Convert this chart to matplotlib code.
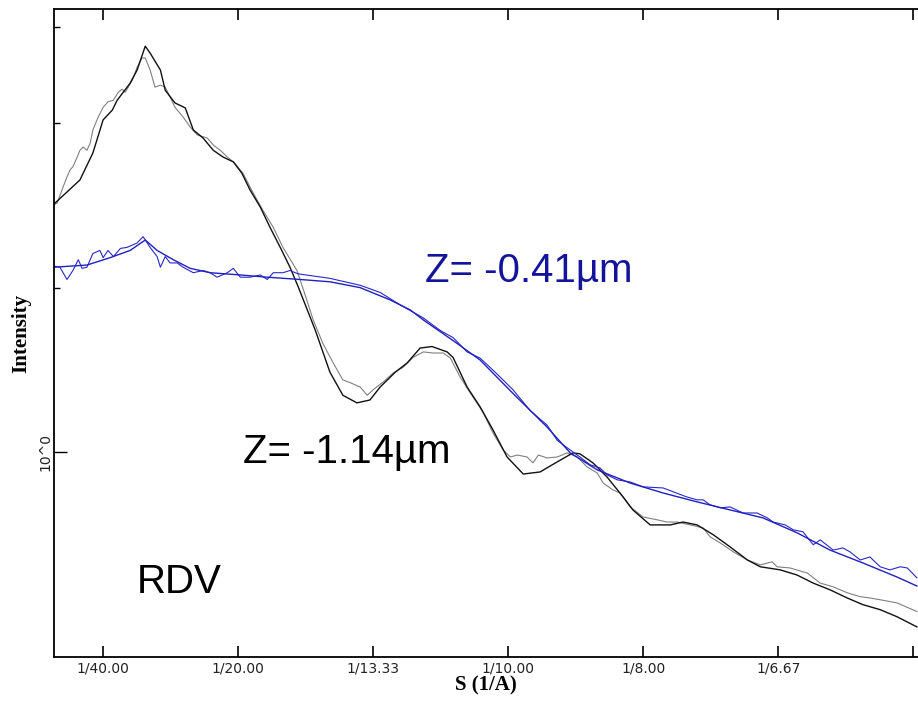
import numpy as np
import matplotlib
matplotlib.use("Agg")
import matplotlib.pyplot as plt
from matplotlib.ticker import FixedLocator, NullFormatter

# S (1/A) and intensity
s_black = [0.0159, 0.0207, 0.0231, 0.0250, 0.0267, 0.0276, 0.0300, 0.0313, 0.0328, 0.0337,
           0.0356, 0.0365, 0.0383, 0.0402, 0.0417, 0.0435, 0.0454, 0.0472, 0.0491, 0.0507,
           0.0522, 0.0541, 0.0559, 0.0578, 0.0596, 0.0611, 0.0643, 0.0670, 0.0694, 0.0720,
           0.0744, 0.0763, 0.0791, 0.0813, 0.0837, 0.0859, 0.0887, 0.0898, 0.0924, 0.0948,
           0.0972, 0.0998, 0.1028, 0.1059, 0.1091, 0.1120, 0.1133, 0.1157, 0.1183, 0.1213,
           0.1231, 0.1263, 0.1300, 0.1324, 0.1350, 0.1380, 0.1411, 0.1443, 0.1467, 0.1504,
           0.1535, 0.1565, 0.1596, 0.1628, 0.1657, 0.1689, 0.1720, 0.1757]
i_black = [2.846, 3.15, 3.53, 4.06, 4.23, 4.41, 4.74, 5.01, 5.54, 5.38,
           5.01, 4.60, 4.36, 4.27, 3.89, 3.76, 3.57, 3.47, 3.40, 3.24,
           3.02, 2.81, 2.58, 2.37, 2.18, 2.01, 1.67, 1.40, 1.27, 1.23,
           1.245, 1.315, 1.40, 1.456, 1.55, 1.56, 1.525, 1.49, 1.315, 1.21,
           1.097, 0.979, 0.911, 0.919, 0.959, 0.996, 0.992, 0.955, 0.900, 0.827,
           0.783, 0.735, 0.735, 0.744, 0.735, 0.705, 0.670, 0.634, 0.616, 0.608,
           0.595, 0.575, 0.559, 0.540, 0.525, 0.514, 0.499, 0.478]

s_gray = [0.0159, 0.0165, 0.0176, 0.0183, 0.0189, 0.0194, 0.0202, 0.0207, 0.0213, 0.0220,
          0.0226, 0.0231, 0.0241, 0.0250, 0.0259, 0.0269, 0.0278, 0.0285, 0.0291, 0.0304,
          0.0313, 0.0322, 0.0328, 0.0337, 0.0346, 0.0356, 0.0365, 0.0374, 0.0383, 0.0398,
          0.0411, 0.0424, 0.0443, 0.0454, 0.0467, 0.0480, 0.0494, 0.0509, 0.0528, 0.0546,
          0.0565, 0.0583, 0.0609, 0.0624, 0.0639, 0.0657, 0.0676, 0.0694, 0.0707, 0.0726,
          0.0739, 0.0750, 0.0769, 0.0787, 0.0806, 0.0824, 0.0843, 0.0861, 0.0880, 0.0893,
          0.0911, 0.0935, 0.0954, 0.0972, 0.0991, 0.1004, 0.1017, 0.1035, 0.1046, 0.1056,
          0.1072, 0.1091, 0.1109, 0.1128, 0.1146, 0.1165, 0.1176, 0.1194, 0.1207, 0.1226,
          0.1250, 0.1276, 0.1294, 0.1313, 0.1337, 0.1361, 0.1374, 0.1393, 0.1417, 0.1443,
          0.1467, 0.1489, 0.1498, 0.1522, 0.1554, 0.1578, 0.1602, 0.1628, 0.1652, 0.1670,
          0.1689, 0.1720, 0.1757]
i_gray = [2.835, 2.86, 3.06, 3.19, 3.29, 3.33, 3.47, 3.57, 3.62, 3.57,
          3.68, 3.89, 4.11, 4.28, 4.38, 4.41, 4.56, 4.62, 4.56, 4.80,
          5.07, 5.27, 5.27, 5.01, 4.66, 4.70, 4.66, 4.47, 4.28, 4.11,
          3.94, 3.81, 3.76, 3.65, 3.57, 3.47, 3.38, 3.24, 2.98, 2.77,
          2.58, 2.37, 2.15, 1.94, 1.745, 1.58, 1.456, 1.355, 1.34, 1.315,
          1.27, 1.30, 1.344, 1.395, 1.43, 1.49, 1.525, 1.518, 1.518, 1.486,
          1.372, 1.26, 1.18, 1.083, 1.008, 0.979, 0.987, 0.979, 0.955, 0.987,
          0.975, 0.979, 0.996, 0.979, 0.939, 0.915, 0.877, 0.852, 0.841, 0.793,
          0.760, 0.751, 0.744, 0.744, 0.735, 0.726, 0.699, 0.681, 0.656, 0.634,
          0.621, 0.629, 0.616, 0.613, 0.600, 0.575, 0.566, 0.552, 0.543, 0.540,
          0.536, 0.529, 0.510]

s_blue = [0.0159, 0.0220, 0.0263, 0.0300, 0.0328, 0.0350, 0.0380, 0.0411, 0.0448, 0.0504,
          0.0554, 0.0615, 0.0670, 0.0726, 0.0781, 0.0819, 0.0843, 0.0898, 0.0948, 0.1009,
          0.1072, 0.1115, 0.1165, 0.1226, 0.1287, 0.1350, 0.1411, 0.1472, 0.1535, 0.1596,
          0.1657, 0.1720, 0.1757]
i_blue = [2.18, 2.20, 2.27, 2.34, 2.445, 2.34, 2.25, 2.17, 2.13, 2.11,
          2.09, 2.07, 2.05, 2.00, 1.90, 1.82, 1.745, 1.60, 1.474, 1.28,
          1.111, 0.996, 0.927, 0.877, 0.841, 0.810, 0.783, 0.757, 0.711, 0.661,
          0.626, 0.590, 0.568]

s_blue_exp = [0.0159, 0.0170, 0.0183, 0.0194, 0.0204, 0.0211, 0.0220, 0.0231, 0.0244, 0.0250,
              0.0259, 0.0269, 0.0282, 0.0294, 0.0313, 0.0324, 0.0337, 0.0350, 0.0356, 0.0365,
              0.0374, 0.0387, 0.0398, 0.0417, 0.0435, 0.0448, 0.0461, 0.0480, 0.0491, 0.0504,
              0.0522, 0.0541, 0.0554, 0.0565, 0.0583, 0.0596, 0.0611, 0.0670, 0.0726, 0.0763,
              0.0800, 0.0843, 0.0874, 0.0898, 0.0924, 0.0948, 0.0976, 0.1009, 0.1041, 0.1072,
              0.1091, 0.1115, 0.1133, 0.1152, 0.1170, 0.1183, 0.1202, 0.1226, 0.1250, 0.1287,
              0.1306, 0.1331, 0.1350, 0.1361, 0.1374, 0.1393, 0.1411, 0.1435, 0.1461, 0.1480,
              0.1491, 0.1513, 0.1528, 0.1546, 0.1565, 0.1578, 0.1602, 0.1620, 0.1633, 0.1652,
              0.1670, 0.1689, 0.1707, 0.1726, 0.1739, 0.1757]
i_blue_exp = [2.19, 2.18, 2.07, 2.15, 2.25, 2.17, 2.18, 2.31, 2.34, 2.27,
              2.34, 2.28, 2.36, 2.37, 2.415, 2.48, 2.37, 2.28, 2.18, 2.28,
              2.22, 2.22, 2.18, 2.13, 2.15, 2.13, 2.09, 2.13, 2.17, 2.09,
              2.09, 2.11, 2.07, 2.13, 2.13, 2.15, 2.12, 2.08, 2.02, 1.96,
              1.86, 1.76, 1.67, 1.62, 1.525, 1.486, 1.40, 1.30, 1.19, 1.12,
              1.05, 1.008, 0.979, 0.947, 0.935, 0.908, 0.889, 0.881, 0.863, 0.859,
              0.845, 0.827, 0.817, 0.817, 0.800, 0.790, 0.793, 0.773, 0.773, 0.757,
              0.744, 0.735, 0.720, 0.714, 0.676, 0.690, 0.661, 0.667, 0.656, 0.634,
              0.642, 0.616, 0.608, 0.616, 0.613, 0.588]

x_ticks = [0.025, 0.05, 0.075, 0.1, 0.125, 0.15, 0.175]
x_labels = ["1/40.00", "1/20.00", "1/13.33", "1/10.00", "1/8.00", "1/6.67", ""]

W, H = 918, 704
fig = plt.figure(figsize=(W / 100, H / 100), dpi=100)
ax = fig.add_axes([54 / W, 47 / H, 864 / W, 648 / H])

ax.plot(s_gray, i_gray, color="#808080", lw=0.8)
ax.plot(s_black, i_black, color="#111111", lw=1.0)
ax.plot(s_blue_exp, i_blue_exp, color="#2828c8", lw=0.8)
ax.plot(s_blue, i_blue, color="#2020c0", lw=1.0)

ax.set_yscale("log")
ax.set_xlim(0.0159, 0.1759)
ax.set_ylim(0.421, 6.48)

ax.set_xticks(x_ticks)
ax.set_xticklabels(x_labels)
ax.yaxis.set_major_locator(FixedLocator([1.0]))
ax.set_yticklabels(["10^0"], rotation=90, va="center")
ax.yaxis.set_minor_locator(FixedLocator([2, 4, 6]))
ax.yaxis.set_minor_formatter(NullFormatter())

ax.tick_params(axis="x", which="both", direction="in", top=True, bottom=True,
               length=8, width=1.2, pad=3, labelsize=10, labelcolor="#222222")
ax.tick_params(axis="y", which="major", direction="in", length=9, width=1.0,
               pad=1, labelsize=10, labelcolor="#222222")
ax.tick_params(axis="y", which="minor", direction="in", length=4, width=1.0)

for side in ["left", "bottom", "top"]:
    ax.spines[side].set_linewidth(1.3)
ax.spines["right"].set_visible(False)

ax.set_xlabel("S (1/A)", family="Liberation Serif", fontweight="bold", fontsize=15, labelpad=0)
ax.set_ylabel("Intensity", family="Liberation Serif", fontweight="bold", fontsize=15, labelpad=5)

fig.text(425 / W, 1 - 282 / H, "Z= -0.41µm", family="Liberation Sans", fontsize=29,
         color="#14149a", va="baseline")
fig.text(243 / W, 1 - 463 / H, "Z= -1.14µm", family="Liberation Sans", fontsize=29,
         color="black", va="baseline")
fig.text(137 / W, 1 - 593 / H, "RDV", family="Liberation Sans", fontsize=29,
         color="black", va="baseline")

fig.savefig("out.png", dpi=100)
